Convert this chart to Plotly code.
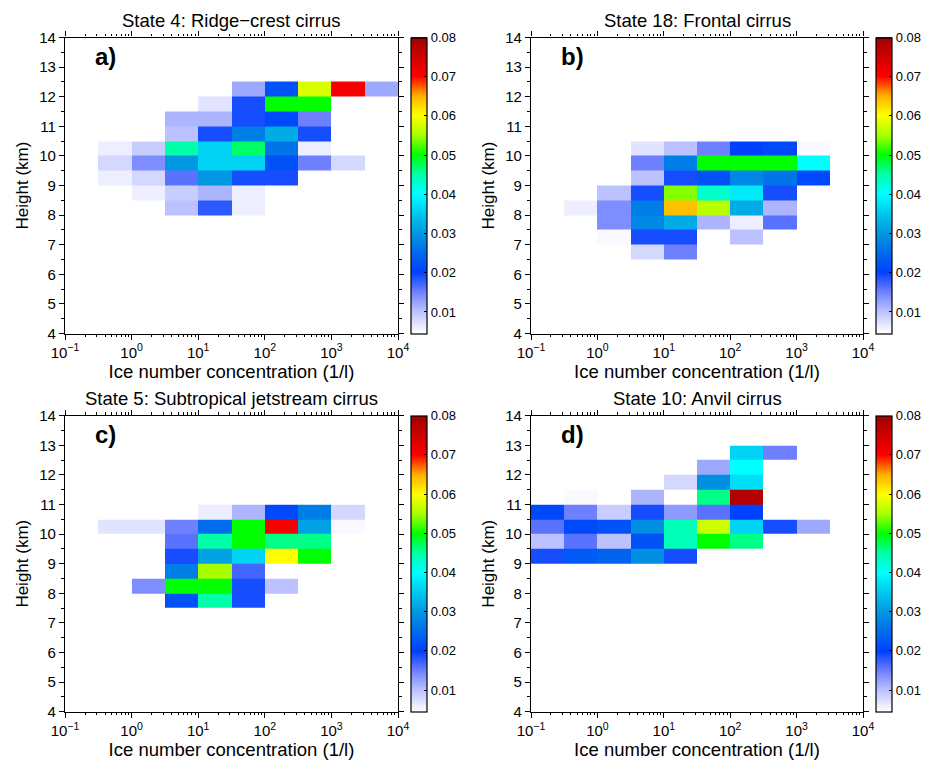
import plotly.graph_objects as go

N = None

# bin edges: log10 of ice number concentration (1/l) and height (km)
log_conc_edges = [-1.0, -0.5, 0.0, 0.5, 1.0, 1.5, 2.0, 2.5, 3.0, 3.5, 4.0]
height_edges = [4.0 + 0.5 * i for i in range(21)]

# rows keyed by lower height edge, 10 concentration bins each
state4 = {
    12.0: [N, N, N, N, N, 0.012, 0.022, 0.058, 0.071, 0.012],
    11.5: [N, N, N, N, 0.007, 0.019, 0.050, 0.050, N, N],
    11.0: [N, N, N, 0.011, 0.011, 0.019, 0.021, 0.015, N, N],
    10.5: [N, N, N, 0.010, 0.019, 0.027, 0.032, 0.019, N, N],
    10.0: [N, 0.006, 0.009, 0.045, 0.036, 0.047, 0.026, 0.006, N, N],
    9.5: [N, 0.008, 0.014, 0.030, 0.036, 0.036, 0.022, 0.015, 0.008, N],
    9.0: [N, 0.006, 0.008, 0.016, 0.030, 0.019, 0.019, N, N, N],
    8.5: [N, N, 0.006, 0.009, 0.011, 0.006, N, N, N, N],
    8.0: [N, N, N, 0.010, 0.018, 0.006, N, N, N, N],
}
state18 = {
    10.0: [N, N, N, 0.007, 0.010, 0.015, 0.020, 0.021, 0.005, N],
    9.5: [N, N, N, 0.015, 0.027, 0.050, 0.050, 0.050, 0.040, N],
    9.0: [N, N, N, 0.010, 0.019, 0.022, 0.028, 0.026, 0.021, N],
    8.5: [N, N, 0.010, 0.019, 0.054, 0.043, 0.038, 0.019, N, N],
    8.0: [N, 0.006, 0.014, 0.027, 0.064, 0.056, 0.032, 0.011, N, N],
    7.5: [N, N, 0.014, 0.028, 0.032, 0.011, 0.006, 0.016, N, N],
    7.0: [N, N, 0.005, 0.019, 0.019, N, 0.010, N, N, N],
    6.5: [N, N, N, 0.008, 0.015, N, N, N, N, N],
}
state5 = {
    10.5: [N, N, N, N, 0.006, 0.011, 0.021, 0.027, 0.008, N],
    10.0: [N, 0.007, 0.007, 0.015, 0.025, 0.050, 0.071, 0.031, 0.005, N],
    9.5: [N, N, N, 0.016, 0.045, 0.050, 0.046, 0.046, N, N],
    9.0: [N, N, N, 0.019, 0.031, 0.036, 0.060, 0.050, N, N],
    8.5: [N, N, N, 0.027, 0.055, 0.017, N, N, N, N],
    8.0: [N, N, 0.014, 0.050, 0.050, 0.019, 0.010, N, N, N],
    7.5: [N, N, N, 0.022, 0.045, 0.019, N, N, N, N],
}
state10 = {
    12.5: [N, N, N, N, N, N, 0.036, 0.015, N, N],
    12.0: [N, N, N, N, N, 0.012, 0.040, N, N, N],
    11.5: [N, N, N, N, 0.008, 0.029, 0.037, N, N, N],
    11.0: [N, 0.005, N, 0.011, 0.004, 0.046, 0.078, N, N, N],
    10.5: [0.021, 0.015, 0.009, 0.019, 0.013, 0.016, 0.020, N, N, N],
    10.0: [0.016, 0.021, 0.022, 0.029, 0.044, 0.057, 0.036, 0.019, 0.012, N],
    9.5: [0.010, 0.016, 0.010, 0.022, 0.044, 0.050, 0.046, N, N, N],
    9.0: [0.019, 0.023, 0.024, 0.029, 0.019, N, N, N, N, N],
}

titles = ["State 4: Ridge\u2212crest cirrus", "State 18: Frontal cirrus",
          "State 5: Subtropical jetstream cirrus", "State 10: Anvil cirrus"]
letters = ["a)", "b)", "c)", "d)"]
panels = [state4, state18, state5, state10]

x_tick_exps = [-1, 0, 1, 2, 3, 4]
cbar_ticks = [0.01, 0.02, 0.03, 0.04, 0.05, 0.06, 0.07, 0.08]
zmin, zmax = 0.0045, 0.08

color_stops = [
    (0.0045, "#ffffff"), (0.010, "#bcc2ff"), (0.015, "#6f80ff"), (0.020, "#0040ff"),
    (0.025, "#006cec"), (0.030, "#0098e0"), (0.035, "#00c8f0"), (0.040, "#00ffff"),
    (0.045, "#00ffa8"), (0.050, "#00ff00"), (0.055, "#a8ff00"), (0.060, "#ffff00"),
    (0.065, "#ffb000"), (0.070, "#ff0000"), (0.080, "#a00000"),
]
colorscale = [[(v - zmin) / (zmax - zmin), c] for v, c in color_stops]

# the page body has an 8 px margin, so the figure starts at (8, 8) in the window
OFF = 8
W, H = 932 - OFF, 763 - OFF
# pixel boxes of plot areas in window coordinates (left, right, top, bottom)
boxes = [(65, 398, 37.5, 333.5), (531, 863, 37.5, 333.5),
         (65, 398, 415.7, 711.7), (531, 863, 415.7, 711.7)]

x_edges = [10 ** e for e in log_conc_edges]
minor_x = [m * 10 ** k for k in range(-1, 4) for m in range(2, 10)]
font = "Liberation Sans, Arial, Helvetica, sans-serif"

fig = go.Figure()
for i, (panel, box) in enumerate(zip(panels, boxes)):
    z = []
    for lo in height_edges[:-1]:
        z.append(panel.get(lo, [N] * 10))
    sfx = "" if i == 0 else str(i + 1)
    l, r, t, b = [v - OFF for v in box]
    fig.add_trace(go.Heatmap(
        x=x_edges, y=height_edges, z=z, xaxis="x" + sfx, yaxis="y" + sfx,
        zmin=zmin, zmax=zmax, colorscale=colorscale, hoverongaps=False,
        colorbar=dict(
            x=(r + 12.5) / W, xanchor="left", xref="paper",
            y=1 - (t + b) / 2 / H, yanchor="middle", len=(b - t) / H, lenmode="fraction",
            thickness=16, outlinecolor="black", outlinewidth=1.2,
            tickvals=cbar_ticks, ticktext=[f"{v:.2f}" for v in cbar_ticks],
            ticks="inside", ticklen=3, tickcolor="black",
            tickfont=dict(size=13, family=font, color="black"), xpad=0, ypad=0,
        ),
    ))
    fig.layout["xaxis" + sfx] = dict(
        domain=[l / W, r / W], anchor="y" + sfx, type="log", range=[-1, 4], automargin=False,
        tickvals=[10 ** e for e in x_tick_exps],
        ticktext=[("10<sup>\u2212%d</sup>" % -e) if e < 0 else ("10<sup>%d</sup>" % e) for e in x_tick_exps],
        ticks="outside", ticklen=5, tickcolor="black", showline=True, linecolor="black", linewidth=1.2,
        mirror="ticks", showgrid=False, zeroline=False,
        minor=dict(tickvals=minor_x, ticks="outside", ticklen=2.5, tickcolor="black", showgrid=False),
        tickfont=dict(size=15, family=font, color="black"),
        title=dict(text="Ice number concentration (1/l)", font=dict(size=18.5, family=font, color="black"), standoff=4),
    )
    fig.layout["yaxis" + sfx] = dict(
        domain=[1 - b / H, 1 - t / H], anchor="x" + sfx, range=[4, 14], dtick=1, automargin=False,
        ticks="outside", ticklen=5, tickcolor="black", showline=True, linecolor="black", linewidth=1.2,
        mirror="ticks", showgrid=False, zeroline=False,
        minor=dict(dtick=0.5, ticks="outside", ticklen=2.5, tickcolor="black", showgrid=False),
        tickfont=dict(size=15, family=font, color="black"),
        title=dict(text="Height (km)", font=dict(size=17, family=font, color="black"), standoff=6),
    )
    fig.add_annotation(text=titles[i], xref="x%s domain" % sfx, yref="paper",
                       x=0.5, y=1 - (t - 5) / H, yanchor="bottom", showarrow=False,
                       font=dict(size=18.5, family=font, color="black"))
    fig.add_annotation(text="<b>%s</b>" % letters[i], xref="x%s domain" % sfx, yref="y%s domain" % sfx,
                       x=0.085, y=0.935, xanchor="left", yanchor="middle", showarrow=False,
                       font=dict(size=24, family=font, color="black"))

fig.update_layout(width=W, height=H, margin=dict(l=0, r=0, t=0, b=0, autoexpand=False),
                  plot_bgcolor="white", paper_bgcolor="white", showlegend=False,
                  font=dict(family=font, color="black"))
fig.write_html("out.html")
